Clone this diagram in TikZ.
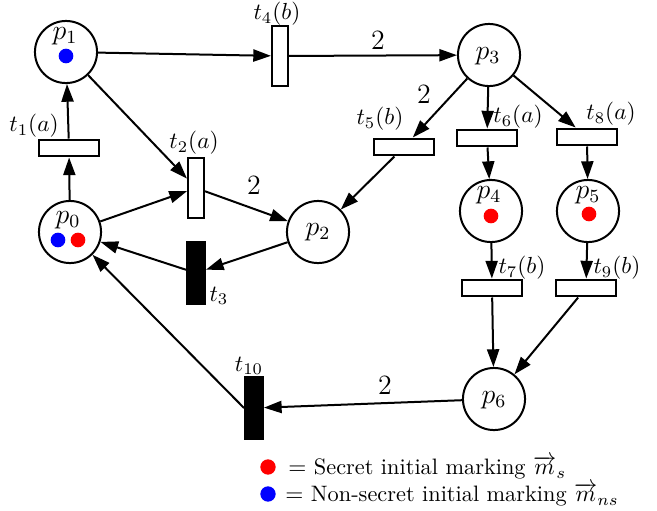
\documentclass[tikz,border=0pt]{standalone}
\usepackage{amsmath,amssymb}
\usepackage{xcolor}
\usetikzlibrary{arrows.meta}
\definecolor{secret}{HTML}{FF0000}
\definecolor{nonsecret}{HTML}{0000FF}
\tikzset{
  place/.style={draw, circle, line width=0.86pt, minimum size=26.7pt, inner sep=0pt},
  trans/.style={draw, line width=0.86pt, fill=white, inner sep=0pt},
  htrans/.style={trans, minimum width=26.2pt, minimum height=7.3pt},
  vtrans/.style={trans, minimum width=6.9pt, minimum height=26.2pt},
  silent/.style={trans, fill=black, minimum width=7.7pt, minimum height=26.7pt},
  arc/.style={line width=0.86pt, -{Triangle[length=7.6pt,width=5.2pt]}},
  tok/.style={circle, inner sep=0pt, minimum size=6.3pt},
  plab/.style={font=\large},
  tlab/.style={font=\normalsize},
  wt/.style={font=\large},
  legend/.style={font=\fontsize{9.6}{11}\selectfont, anchor=west, inner sep=0pt,
    text height=7pt, text depth=2pt}
}

\begin{document}
\begin{tikzpicture}[x=0.43pt,y=-0.43pt]
  \useasboundingbox (0,0) rectangle (657,510);

  % places
  \node[place] (p0) at (70,232) {};
  \node[place] (p1) at (66,52) {};
  \node[place] (p2) at (318,232) {};
  \node[place] (p3) at (489,55) {};
  \node[place] (p4) at (491,211) {};
  \node[place] (p5) at (588,211) {};
  \node[place] (p6) at (494,399) {};

  % transitions
  \node[htrans] (t1) at (69,148) {};
  \node[vtrans] (t2) at (196,188) {};
  \node[silent] (t3) at (196,273) {};
  \node[vtrans] (t4) at (280,56) {};
  \node[htrans] (t5) at (404,147) {};
  \node[htrans] (t6) at (487,138) {};
  \node[htrans] (t7) at (492,288) {};
  \node[htrans] (t8) at (587,137) {};
  \node[htrans] (t9) at (586,288) {};
  \node[silent] (t10) at (254,408) {};

  % arcs
  \draw[arc] (p0) -- (t1);
  \draw[arc] (t1) -- (p1);
  \draw[arc] (p0) -- (t2);
  \draw[arc] (p1) -- (t2);
  \draw[arc] (t2) -- (p2);
  \draw[arc] (p2) -- (t3);
  \draw[arc] (t3) -- (p0);
  \draw[arc] (p1) -- (t4);
  \draw[arc] (t4) -- (p3);
  \draw[arc] (p3) -- (t5);
  \draw[arc] (t5) -- (p2);
  \draw[arc] (p3) -- (t6);
  \draw[arc] (t6) -- (p4);
  \draw[arc] (p3) -- (t8);
  \draw[arc] (t8) -- (p5);
  \draw[arc] (p4) -- (t7);
  \draw[arc] (p5) -- (t9);
  \draw[arc] (t7) -- (p6);
  \draw[arc] (t9) -- (p6);
  \draw[arc] (p6) -- (t10);
  \draw[arc] (t10.west) -- (p0);

  % arc weights
  \node[wt] (w4) at (378,40) {$2$};
  \node[wt] (w2) at (254,185) {$2$};
  \node[wt] (w5) at (424,94) {$2$};
  \node[wt] (w10) at (385,385) {$2$};

  % place names and tokens
  \node[plab] (l0) at (68,220) {$p_0$};
  \node[plab] (l1) at (65,36) {$p_1$};
  \node[plab] (l2) at (318,232) {$p_2$};
  \node[plab] (l3) at (488,56) {$p_3$};
  \node[plab] (l4) at (489,195) {$p_4$};
  \node[plab] (l5) at (588,195) {$p_5$};
  \node[plab] (l6) at (494,400) {$p_6$};

  \node[tok, fill=nonsecret] (k1) at (66,56) {};
  \node[tok, fill=nonsecret] (k0b) at (58,240) {};
  \node[tok, fill=secret] (k0r) at (78,240) {};
  \node[tok, fill=secret] (k4) at (491,216) {};
  \node[tok, fill=secret] (k5) at (589,214) {};

  % transition labels
  \node[tlab] (n1) at (34,126) {$t_1(a)$};
  \node[tlab] (n2) at (194,143) {$t_2(a)$};
  \node[tlab] (n3) at (219,296) {$t_3$};
  \node[tlab] (n4) at (277,14) {$t_4(b)$};
  \node[tlab] (n5) at (380,119) {$t_5(b)$};
  \node[tlab] (n6) at (518,117) {$t_6(a)$};
  \node[tlab] (n7) at (522,268) {$t_7(b)$};
  \node[tlab] (n8) at (611,114) {$t_8(a)$};
  \node[tlab] (n9) at (617,268) {$t_9(b)$};
  \node[tlab] (n10) at (249,366) {$t_{10}$};

  % legend
  \node[tok, fill=secret, minimum size=6.6pt] (ks) at (268,467) {};
  \node[tok, fill=nonsecret, minimum size=6.6pt] (kn) at (268,494) {};
  \node[legend] (ls) at (288,469) {$=$ Secret initial marking $\overrightarrow{m}_s$};
  \node[legend] (ln) at (285,496) {$=$ Non-secret initial marking $\overrightarrow{m}_{ns}$};
\end{tikzpicture}
\end{document}
